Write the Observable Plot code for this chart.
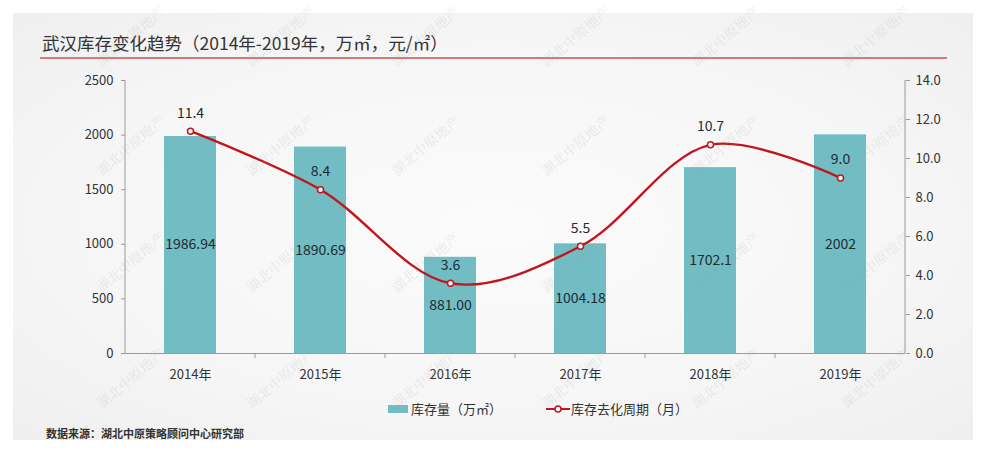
<!DOCTYPE html>
<html>
<head>
<meta charset="utf-8">
<script src="https://cdn.jsdelivr.net/npm/d3@7"></script>
<script src="https://cdn.jsdelivr.net/npm/@observablehq/plot@0.6"></script>
<style>
  html, body { margin: 0; padding: 0; background: #ffffff; }
  #page { position: relative; width: 991px; height: 453px; overflow: hidden; font-family: "Noto Sans CJK SC", "Noto Sans", sans-serif; }
  #panel { position: absolute; left: 13px; top: 13px; width: 960px; height: 427px;
           background: radial-gradient(ellipse at 50% 50%, #fbfbfb 0%, #f6f6f6 60%, #efefef 100%); }
  #title { position: absolute; left: 42px; top: 30px; font-size: 17.5px; color: #333; white-space: nowrap; }
  #rule { position: absolute; left: 40px; top: 57px; width: 907px; height: 2px; background: #d9787c; }
  #chart { position: absolute; left: 0; top: 62px; }
  .leg { position: absolute; top: 399px; font-size: 13px; color: #333; white-space: nowrap; display: flex; align-items: center; }
  #source { position: absolute; left: 46px; top: 425px; font-size: 11px; font-weight: bold; color: #333; white-space: nowrap; }
  .wm { position: absolute; font-family: "Noto Serif CJK SC", "Noto Sans CJK SC", serif; font-size: 14px; color: rgba(150,150,150,0.2);
        transform: translate(-50%, -50%) rotate(-40deg); white-space: nowrap; pointer-events: none; }
</style>
</head>
<body>
<div id="page">
  <div id="panel"></div>
  <div id="title">武汉库存变化趋势（2014年-2019年，万㎡，元/㎡）</div>
  <div id="rule"></div>
  <div id="chart"></div>
  <div class="leg" style="left:388px;"><span style="display:inline-block;width:20px;height:8px;background:#72bdc4;margin-right:3px;"></span>库存量（万㎡）</div>
  <div class="leg" style="left:546px;"><svg width="24" height="10" style="margin-right:1px;"><line x1="0" y1="5" x2="24" y2="5" stroke="#c0161c" stroke-width="2"/><circle cx="12" cy="5" r="3" fill="#fff" stroke="#c0161c" stroke-width="1.5"/></svg>库存去化周期（月）</div>
  <div id="source">数据来源：湖北中原策略顾问中心研究部</div>
  <div id="wms"></div>
</div>
<script>
const years = ["2014年", "2015年", "2016年", "2017年", "2018年", "2019年"];
const stock = [1986.94, 1890.69, 881.00, 1004.18, 1702.1, 2002];
const stockLabels = ["1986.94", "1890.69", "881.00", "1004.18", "1702.1", "2002"];
const period = [11.4, 8.4, 3.6, 5.5, 10.7, 9.0];
const periodLabels = ["11.4", "8.4", "3.6", "5.5", "10.7", "9.0"];
const leftTicks = [0, 500, 1000, 1500, 2000, 2500];
const rightTicks = [0, 2, 4, 6, 8, 10, 12, 14];
const leftMax = 2500, rightMax = 14;

const k = leftMax / rightMax;
const data = years.map((y, i) => ({
  year: y, stock: stock[i], stockLabel: stockLabels[i],
  period: period[i], periodScaled: period[i] * k, periodLabel: periodLabels[i]
}));

const teal = "#72bdc4", red = "#c0161c", axisColor = "#9a9a9a";

// boundary ticks on the x axis (between categories), drawn through the x scale
function boundaryTicks(index, scales, values, dims) {
  const x = scales.x;
  const g = d3.create("svg:g").attr("stroke", axisColor).attr("stroke-width", 1);
  const yb = dims.height - dims.marginBottom;
  years.forEach((y, i) => {
    if (i === 0) return;
    const xb = x(y) - (x.step() - x.bandwidth()) / 2;
    g.append("line").attr("x1", xb).attr("x2", xb).attr("y1", yb).attr("y2", yb + 5);
  });
  return g.node();
}

const chart = Plot.plot({
  width: 991,
  height: 330,
  marginTop: 18,
  marginBottom: 39,
  marginLeft: 125,
  marginRight: 86,
  style: { background: "transparent", fontFamily: "'Noto Sans CJK SC', 'Noto Sans', sans-serif", fontSize: "13px", color: "#333" },
  x: { type: "band", domain: years, paddingInner: 0.6, paddingOuter: 0.3, align: 0.5 },
  y: { domain: [0, leftMax] },
  marks: [
    Plot.barY(data, { x: "year", y: "stock", fill: teal }),
    Plot.axisY({ ticks: leftTicks, tickFormat: d => String(d), tickSize: 4, tickPadding: 8, stroke: axisColor, fill: "#333", fontSize: 13, label: null }),
    Plot.axisY({ anchor: "right", ticks: rightTicks.map(v => v * k), tickFormat: v => (v / k).toFixed(1), tickSize: 4, tickPadding: 6, stroke: axisColor, fill: "#333", fontSize: 13, label: null }),
    Plot.ruleY([0], { stroke: axisColor }),
    Plot.axisX({ tickSize: 0, tickPadding: 16, fill: "#333", fontSize: 13, label: null }),
    boundaryTicks,
    Plot.text(data, { x: "year", y: d => d.stock / 2, text: "stockLabel", fill: "#1d2b33", fontSize: 14 }),
    Plot.line(data, { x: "year", y: "periodScaled", stroke: red, strokeWidth: 2.4, curve: "catmull-rom" }),
    Plot.dot(data, { x: "year", y: "periodScaled", r: 3, fill: "#fff", stroke: red, strokeWidth: 1.5 }),
    Plot.text(data, { x: "year", y: "periodScaled", text: "periodLabel", dy: -18, fill: "#1d2b33", fontSize: 14 })
  ]
});
document.getElementById("chart").appendChild(chart);

// left and right vertical axis lines
const svg = d3.select(chart);
svg.append("line").attr("x1", 125).attr("x2", 125).attr("y1", 18).attr("y2", 291).attr("stroke", axisColor);
svg.append("line").attr("x1", 905).attr("x2", 905).attr("y1", 18).attr("y2", 291).attr("stroke", axisColor);

// watermarks
const wmText = "湖北中原地产";
const wmCols = [130, 280, 425, 575, 725, 875];
const wmRows = [36, 145, 262, 378];
const wms = document.getElementById("wms");
wmRows.forEach(r => wmCols.forEach(c => {
  const s = document.createElement("div");
  s.className = "wm"; s.textContent = wmText;
  s.style.left = c + "px"; s.style.top = r + "px";
  wms.appendChild(s);
}));
</script>
</body>
</html>
